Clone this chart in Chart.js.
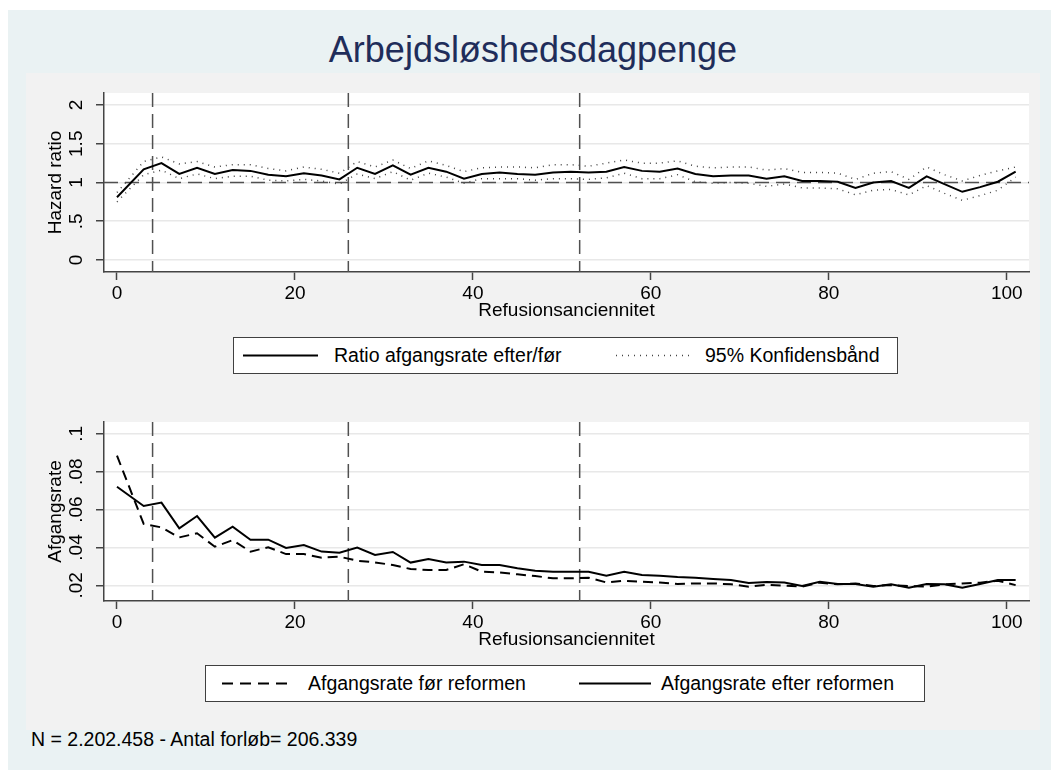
<!DOCTYPE html>
<html>
<head>
<meta charset="utf-8">
<script src="https://cdn.jsdelivr.net/npm/chart.js@4.4.1/dist/chart.umd.min.js"></script>
<style>
body { margin: 0; background: #fff; font-family: "Liberation Sans", Arial, sans-serif; color: #000; }
.abs { position: absolute; }
#frame { left: 8px; top: 10px; width: 1043px; height: 760px; background: #eaf2f3; }
#inner { left: 26px; top: 73px; width: 1014px; height: 657px; background: #f2f2f2; }
#title { left: 26px; top: 28px; width: 1014px; text-align: center; font-size: 36px; line-height: 44px; color: #1f2d5a; }
canvas { position: absolute; left: 26px; }
.legend { position: absolute; background: #fff; border: 1px solid #404040; box-sizing: border-box; height: 37px; }
.legend span { position: absolute; top: 0; line-height: 35px; font-size: 19.5px; white-space: nowrap; }
.legend svg { position: absolute; top: 15px; }
#note { left: 31px; top: 727px; font-size: 19.5px; line-height: 24px; white-space: nowrap; }
</style>
</head>
<body>
<div id="frame" class="abs"></div>
<div id="inner" class="abs"></div>
<div id="title" class="abs">Arbejdsløshedsdagpenge</div>

<canvas id="topChart" width="1014" height="252" style="top:73px"></canvas>
<div class="legend" style="left:233px;top:337px;width:665px">
  <svg style="left:9px" width="75" height="5"><line x1="0" y1="2.5" x2="75" y2="2.5" stroke="#000" stroke-width="2"/></svg>
  <span style="left:100px">Ratio afgangsrate efter/før</span>
  <svg style="left:382px" width="74" height="5"><line x1="0" y1="2.5" x2="74" y2="2.5" stroke="#444" stroke-width="1.5" stroke-dasharray="1 5"/></svg>
  <span style="left:471px">95% Konfidensbånd</span>
</div>

<canvas id="bottomChart" width="1014" height="252" style="top:402px"></canvas>
<div class="legend" style="left:205px;top:665px;width:720px">
  <svg style="left:16px" width="69" height="5"><line x1="0" y1="2.5" x2="69" y2="2.5" stroke="#000" stroke-width="2" stroke-dasharray="11 7"/></svg>
  <span style="left:102px">Afgangsrate før reformen</span>
  <svg style="left:373px" width="72" height="5"><line x1="0" y1="2.5" x2="72" y2="2.5" stroke="#000" stroke-width="2"/></svg>
  <span style="left:455px">Afgangsrate efter reformen</span>
</div>

<div id="note" class="abs">N = 2.202.458 - Antal forløb= 206.339</div>

<script>
// weeks on the x axis (refusionsanciennitet)
const weeks = [0, 3, 5, 7, 9, 11, 13, 15, 17, 19, 21, 23, 25, 27, 29, 31, 33, 35, 37, 39, 41, 43, 45, 47, 49,
               51, 53, 55, 57, 59, 61, 63, 65, 67, 69, 71, 73, 75, 77, 79, 81, 83, 85, 87, 89, 91, 93, 95, 97, 99, 101];

// top panel: hazard ratio + 95% band
const ratio = [0.81, 1.17, 1.25, 1.11, 1.19, 1.11, 1.16, 1.15, 1.10, 1.08, 1.12, 1.09, 1.04, 1.19, 1.11, 1.22, 1.10, 1.19, 1.14, 1.05, 1.11, 1.13, 1.11, 1.10, 1.13,
               1.14, 1.13, 1.14, 1.20, 1.15, 1.14, 1.18, 1.11, 1.08, 1.09, 1.09, 1.05, 1.08, 1.02, 1.02, 1.01, 0.93, 1.00, 1.02, 0.93, 1.08, 0.98, 0.88, 0.94, 1.01, 1.14];
const ciHigh = [0.87, 1.27, 1.33, 1.24, 1.27, 1.20, 1.23, 1.23, 1.18, 1.15, 1.20, 1.17, 1.12, 1.27, 1.20, 1.29, 1.18, 1.28, 1.22, 1.14, 1.19, 1.20, 1.20, 1.19, 1.23,
                1.23, 1.21, 1.25, 1.29, 1.25, 1.25, 1.28, 1.21, 1.19, 1.20, 1.20, 1.16, 1.18, 1.13, 1.13, 1.12, 1.04, 1.12, 1.14, 1.04, 1.20, 1.10, 1.02, 1.09, 1.15, 1.20];
const ciLow = [0.75, 1.10, 1.16, 1.05, 1.11, 1.05, 1.08, 1.08, 1.03, 1.02, 1.04, 1.02, 0.98, 1.11, 1.05, 1.14, 1.03, 1.12, 1.07, 0.99, 1.05, 1.05, 1.05, 1.03, 1.05,
               1.05, 1.04, 1.06, 1.12, 1.05, 1.05, 1.10, 1.01, 0.99, 1.00, 0.99, 0.95, 0.98, 0.93, 0.93, 0.92, 0.84, 0.90, 0.91, 0.84, 0.96, 0.86, 0.77, 0.83, 0.90, 1.07];

// bottom panel: exit rates before / after
const rateBefore = [0.0885, 0.0524, 0.0506, 0.0453, 0.0475, 0.0404, 0.0439, 0.0378, 0.0401, 0.0365, 0.0365, 0.0346, 0.0351, 0.0330, 0.0321, 0.0307, 0.0286, 0.0281, 0.0281, 0.0311, 0.0272, 0.0268, 0.0258, 0.0249, 0.0237,
                    0.0237, 0.0240, 0.0215, 0.0224, 0.0219, 0.0215, 0.0207, 0.0210, 0.0210, 0.0205, 0.0193, 0.0203, 0.0198, 0.0193, 0.0214, 0.0205, 0.0210, 0.0196, 0.0201, 0.0196, 0.0193, 0.0205, 0.0210, 0.0214, 0.0224, 0.0201];
const rateAfter = [0.0721, 0.0619, 0.0637, 0.0501, 0.0566, 0.0452, 0.0510, 0.0441, 0.0441, 0.0397, 0.0413, 0.0378, 0.0372, 0.0399, 0.0360, 0.0376, 0.0320, 0.0339, 0.0321, 0.0325, 0.0307, 0.0307, 0.0290, 0.0277, 0.0272,
                   0.0272, 0.0272, 0.0251, 0.0272, 0.0254, 0.0251, 0.0244, 0.0240, 0.0233, 0.0228, 0.0212, 0.0217, 0.0215, 0.0196, 0.0219, 0.0207, 0.0207, 0.0193, 0.0205, 0.0187, 0.0207, 0.0205, 0.0187, 0.0207, 0.0228, 0.0228];

const xTicks = [0, 20, 40, 60, 80, 100];
const topTicks = [0, 0.5, 1, 1.5, 2];
const topTickLabels = ['0', '.5', '1', '1.5', '2'];
const bottomTicks = [0.02, 0.04, 0.06, 0.08, 0.1];
const bottomTickLabels = ['.02', '.04', '.06', '.08', '.1'];
const refWeeks = [4, 26, 52];

const FONT = '"Liberation Sans", Arial, sans-serif';
Chart.defaults.font.family = FONT;
Chart.defaults.font.size = 19;
Chart.defaults.color = '#000';

const pts = ys => weeks.map((w, i) => ({ x: w, y: ys[i] }));

// white plot region, reference lines, rotated y labels
const panelPlugin = {
  id: 'panel',
  beforeDraw(chart) {
    const a = chart.chartArea, ctx = chart.ctx;
    ctx.save();
    ctx.fillStyle = '#fff';
    ctx.fillRect(a.left, a.top, a.right - a.left, a.bottom - a.top);
    ctx.restore();
  },
  beforeDatasetsDraw(chart, args, opts) {
    const a = chart.chartArea, ctx = chart.ctx;
    const xs = chart.scales.x, ys = chart.scales.y;
    ctx.save();
    ctx.strokeStyle = '#505050';
    ctx.lineWidth = 1.5;
    ctx.setLineDash([14, 7]);
    refWeeks.forEach(w => {
      const px = xs.getPixelForValue(w);
      ctx.beginPath(); ctx.moveTo(px, a.top); ctx.lineTo(px, a.bottom); ctx.stroke();
    });
    if (opts.hLine != null) {
      const py = ys.getPixelForValue(opts.hLine);
      ctx.beginPath(); ctx.moveTo(a.left, py); ctx.lineTo(a.right, py); ctx.stroke();
    }
    ctx.restore();
  },
  afterDraw(chart, args, opts) {
    const ctx = chart.ctx, ys = chart.scales.y;
    ctx.save();
    ctx.font = '19px ' + FONT;
    ctx.fillStyle = '#000';
    ctx.textAlign = 'center';
    ctx.textBaseline = 'middle';
    opts.ticks.forEach((v, i) => {
      ctx.save();
      ctx.translate(51, ys.getPixelForValue(v));
      ctx.rotate(-Math.PI / 2);
      ctx.fillText(opts.labels[i], 0, 0);
      ctx.restore();
    });
    ctx.restore();
  }
};

function makeChart(id, datasets, yMin, yMax, yTicks, yLabels, yTitle, hLine) {
  return new Chart(document.getElementById(id), {
    type: 'line',
    data: { datasets },
    plugins: [panelPlugin],
    options: {
      responsive: false,
      animation: false,
      layout: { padding: { top: 20, right: 11, bottom: 0, left: 0 } },
      elements: { point: { radius: 0 }, line: { tension: 0 } },
      plugins: {
        legend: { display: false },
        tooltip: { enabled: false },
        panel: { hLine: hLine, ticks: yTicks, labels: yLabels }
      },
      scales: {
        x: {
          type: 'linear', min: -1.46, max: 102.5,
          afterBuildTicks: s => { s.ticks = xTicks.map(v => ({ value: v })); },
          afterFit: s => { s.height = 53; },
          grid: { color: 'rgba(0,0,0,0)', tickColor: '#444', tickLength: 8, tickWidth: 1.5 },
          border: { display: true, color: '#444', width: 1.5 },
          ticks: { padding: 2, maxRotation: 0, color: '#000' },
          title: { display: true, text: 'Refusionsanciennitet', padding: { top: 0, bottom: 2.6 }, color: '#000' }
        },
        y: {
          type: 'linear', min: yMin, max: yMax,
          afterBuildTicks: s => { s.ticks = yTicks.map(v => ({ value: v })); },
          afterFit: s => { s.width = 78; },
          grid: { color: '#e8e8e8', lineWidth: 1.5, tickColor: '#444', tickLength: 8, tickWidth: 1.5 },
          border: { display: true, color: '#444', width: 1.5 },
          ticks: { display: false },
          title: { display: true, text: yTitle, padding: { top: 18.5, bottom: 0 }, color: '#000' }
        }
      }
    }
  });
}

makeChart('topChart', [
  { data: pts(ciHigh), borderColor: '#444', borderWidth: 1.5, borderDash: [1, 5] },
  { data: pts(ciLow), borderColor: '#444', borderWidth: 1.5, borderDash: [1, 5] },
  { data: pts(ratio), borderColor: '#000', borderWidth: 2 }
], -0.155, 2.155, topTicks, topTickLabels, 'Hazard ratio', 1);

makeChart('bottomChart', [
  { data: pts(rateBefore), borderColor: '#000', borderWidth: 2, borderDash: [10, 6] },
  { data: pts(rateAfter), borderColor: '#000', borderWidth: 2 }
], 0.0117, 0.1063, bottomTicks, bottomTickLabels, 'Afgangsrate', null);
</script>
</body>
</html>
